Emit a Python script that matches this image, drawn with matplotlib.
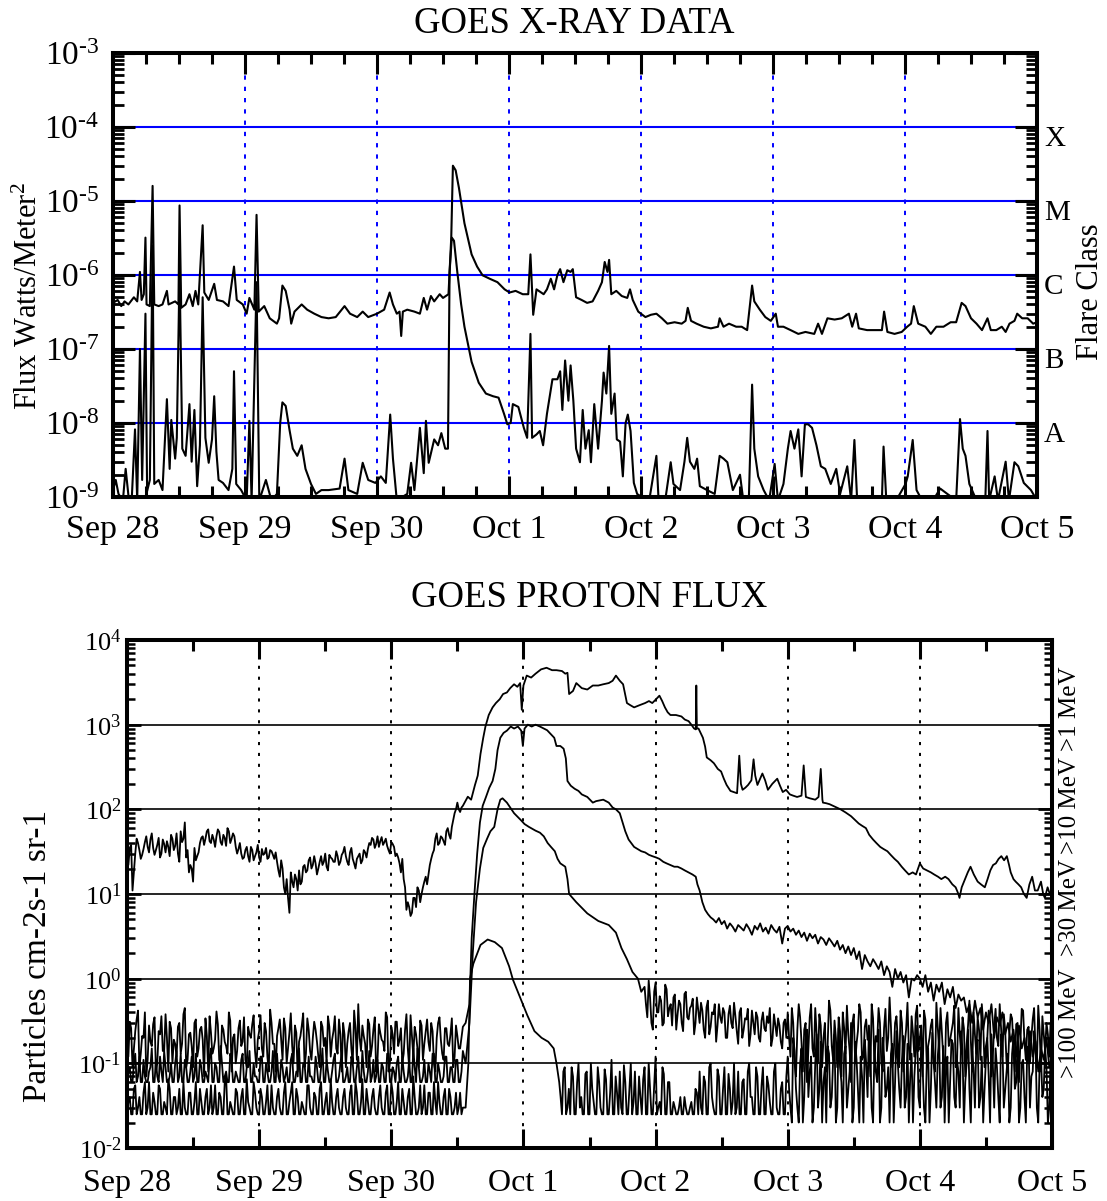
import numpy as np
import matplotlib
matplotlib.use("Agg")
import matplotlib.pyplot as plt
from matplotlib.ticker import FixedLocator, FixedFormatter, LogLocator, NullFormatter

plt.rcParams['font.family'] = ['Liberation Serif', 'DejaVu Serif']
plt.rcParams['mathtext.fontset'] = 'custom'
plt.rcParams['mathtext.rm'] = 'Liberation Serif'
plt.rcParams['mathtext.it'] = 'Liberation Serif:italic'
plt.rcParams['mathtext.bf'] = 'Liberation Serif:bold'

# ---------------- data ----------------
day_labels = ["Sep 28", "Sep 29", "Sep 30", "Oct 1", "Oct 2", "Oct 3", "Oct 4", "Oct 5"]
day_hours = [0, 24, 48, 72, 96, 120, 144, 168]
flare_classes = ["A", "B", "C", "M", "X"]
flare_levels = [1e-8, 1e-7, 1e-6, 1e-5, 1e-4]
xray_decades = [1e-9, 1e-8, 1e-7, 1e-6, 1e-5, 1e-4, 1e-3]
xray_decade_labels = [r"$10^{\text{-9}}$", r"$10^{\text{-8}}$", r"$10^{\text{-7}}$", r"$10^{\text{-6}}$",
                      r"$10^{\text{-5}}$", r"$10^{\text{-4}}$", r"$10^{\text{-3}}$"]
proton_decades = [1e-2, 1e-1, 1e0, 1e1, 1e2, 1e3, 1e4]
proton_decade_labels = [r"$10^{\text{-2}}$", r"$10^{\text{-1}}$", r"$10^{0}$", r"$10^{1}$", r"$10^{2}$",
                        r"$10^{3}$", r"$10^{4}$"]
proton_channels = [">100 MeV", ">30 MeV", ">10 MeV", ">1 MeV"]

# GOES long channel (1-8 A), (hour since Sep 28 00 UT, W/m^2)
xray_long = [
    (0.0, 4.2e-7), (0.85, 4.6e-7), (1.5, 3.8e-7), (2.1, 4.4e-7), (2.8, 4.0e-7), (3.8, 5.0e-7),
    (4.4, 4.4e-7), (4.9, 1.1e-6), (5.2, 4.6e-7), (5.6, 5.5e-7), (5.9, 3.2e-6), (6.1, 4.0e-7),
    (6.7, 3.8e-7), (7.2, 1.6e-5), (7.5, 4.0e-7), (8.3, 3.8e-7), (9.0, 4.0e-7), (9.8, 6.1e-7),
    (10.1, 4.0e-7), (11.3, 4.4e-7), (11.9, 4.0e-7), (12.1, 8.7e-6), (12.4, 3.6e-7), (13.2, 4.0e-7),
    (13.9, 5.5e-7), (14.5, 3.8e-7), (15.0, 6.1e-7), (15.5, 4.0e-7), (16.3, 4.7e-6), (16.6, 5.8e-7),
    (17.4, 4.6e-7), (18.4, 7.6e-7), (18.9, 4.6e-7), (20.0, 4.4e-7), (21.0, 3.8e-7), (22.0, 1.3e-6),
    (22.5, 4.6e-7), (23.6, 4.0e-7), (24.3, 3.0e-7), (24.8, 4.9e-7), (25.7, 3.4e-7), (26.1, 6.5e-6),
    (26.5, 3.2e-7), (27.5, 3.8e-7), (28.5, 2.6e-7), (29.8, 2.2e-7), (30.2, 2.6e-7), (30.8, 7.2e-7),
    (31.4, 6.1e-7), (32.1, 3.4e-7), (32.4, 2.2e-7), (33.0, 3.2e-7), (34.3, 4.0e-7), (35.3, 3.4e-7),
    (36.6, 3.0e-7), (37.9, 2.7e-7), (39.2, 2.6e-7), (40.5, 2.7e-7), (42.1, 3.8e-7), (43.1, 3.0e-7),
    (44.4, 2.7e-7), (45.4, 3.2e-7), (46.4, 2.7e-7), (48.0, 3.0e-7), (49.3, 3.4e-7), (50.3, 5.8e-7),
    (50.9, 4.0e-7), (51.6, 3.0e-7), (52.1, 3.2e-7), (52.4, 1.5e-7), (52.7, 3.2e-7), (53.5, 3.4e-7),
    (54.8, 3.2e-7), (55.8, 3.0e-7), (56.5, 4.9e-7), (57.1, 3.4e-7), (57.8, 5.2e-7), (58.4, 4.4e-7),
    (59.4, 5.5e-7), (60.0, 4.9e-7), (61.0, 5.5e-7), (61.5, 3.2e-6), (61.8, 3.0e-5), (62.3, 2.6e-5),
    (62.9, 1.5e-5), (63.9, 5.0e-6), (65.2, 1.9e-6), (66.2, 1.3e-6), (67.2, 9.9e-7), (68.5, 8.9e-7),
    (69.9, 8.0e-7), (71.2, 6.4e-7), (72.1, 5.8e-7), (73.2, 6.1e-7), (74.5, 5.5e-7), (75.5, 5.5e-7),
    (75.9, 1.9e-6), (76.4, 2.9e-7), (77.0, 6.4e-7), (78.3, 5.5e-7), (78.9, 6.4e-7), (79.6, 8.9e-7),
    (80.2, 6.4e-7), (80.8, 1.0e-6), (81.3, 1.2e-6), (81.9, 8.0e-7), (82.6, 1.16e-6), (83.2, 1.1e-6),
    (83.6, 1.2e-6), (84.2, 5.0e-7), (85.2, 4.6e-7), (86.2, 4.2e-7), (87.2, 4.4e-7), (88.2, 6.1e-7),
    (88.9, 8.0e-7), (89.4, 1.5e-6), (89.9, 1.1e-6), (90.2, 1.6e-6), (90.6, 5.5e-7), (91.5, 6.1e-7),
    (92.5, 5.2e-7), (93.5, 4.9e-7), (94.0, 6.4e-7), (94.5, 4.6e-7), (95.5, 3.2e-7), (96.8, 2.7e-7),
    (97.8, 2.9e-7), (98.8, 3.0e-7), (99.8, 2.6e-7), (100.8, 2.2e-7), (102.1, 2.3e-7), (103.4, 2.2e-7),
    (104.1, 2.4e-7), (104.5, 3.6e-7), (105.1, 2.4e-7), (106.1, 2.2e-7), (107.4, 2.0e-7), (108.7, 1.9e-7),
    (110.0, 2.0e-7), (110.3, 2.6e-7), (111.0, 2.0e-7), (112.0, 2.2e-7), (113.3, 2.0e-7), (114.3, 2.0e-7),
    (115.3, 1.8e-7), (116.2, 7.2e-7), (116.6, 4.4e-7), (117.6, 3.4e-7), (118.6, 2.7e-7), (119.6, 2.4e-7),
    (120.5, 3.0e-7), (120.9, 2.0e-7), (121.9, 2.0e-7), (123.2, 1.8e-7), (124.6, 1.6e-7), (125.9, 1.7e-7),
    (127.5, 1.6e-7), (128.2, 2.2e-7), (128.9, 1.6e-7), (129.9, 2.6e-7), (131.2, 2.5e-7), (132.5, 2.6e-7),
    (133.8, 3.0e-7), (134.4, 2.0e-7), (135.1, 3.0e-7), (135.6, 1.9e-7), (137.1, 1.8e-7), (138.8, 1.8e-7),
    (139.8, 1.8e-7), (140.2, 3.2e-7), (140.8, 1.7e-7), (142.1, 1.6e-7), (143.4, 1.7e-7), (144.4, 2.0e-7),
    (145.1, 2.2e-7), (145.6, 3.8e-7), (146.4, 2.2e-7), (147.7, 2.0e-7), (148.7, 1.6e-7), (149.7, 2.0e-7),
    (151.0, 2.0e-7), (152.3, 2.3e-7), (153.3, 2.3e-7), (154.3, 4.2e-7), (155.0, 3.8e-7), (156.0, 2.6e-7),
    (157.0, 2.2e-7), (158.0, 1.8e-7), (159.0, 2.6e-7), (159.6, 1.8e-7), (160.6, 1.8e-7), (161.6, 2.0e-7),
    (162.3, 1.7e-7), (163.0, 2.2e-7), (163.9, 2.4e-7), (164.4, 3.0e-7), (165.3, 2.6e-7), (166.3, 2.6e-7),
    (167.3, 2.2e-7), (168.0, 2.3e-7),
]

# GOES short channel (0.5-4 A)
xray_short = [
    (0.0, 1.24e-9), (0.5, 1.7e-9), (1.0, 1.1e-9), (1.8, 9e-10), (2.3, 2.4e-9), (2.9, 9e-10),
    (3.4, 9e-10), (4.0, 8.2e-9), (4.4, 9e-10), (4.9, 1.0e-7), (5.3, 1.7e-9), (5.9, 3e-7),
    (6.2, 1.2e-9), (6.7, 1.7e-9), (7.2, 2.5e-6), (7.5, 1.5e-9), (8.3, 1.7e-9), (9.0, 1.24e-9),
    (9.8, 2.1e-8), (10.3, 2.4e-9), (10.6, 1.1e-8), (11.3, 3.3e-9), (11.6, 6.3e-9), (12.1, 1.2e-6),
    (12.6, 4.5e-9), (13.2, 3.6e-9), (13.9, 1.8e-8), (14.3, 3.0e-9), (14.8, 1.5e-8), (15.3, 1.4e-9),
    (15.8, 5.0e-9), (16.3, 5.0e-7), (16.8, 6.3e-9), (17.4, 2.9e-9), (18.0, 6.0e-9), (18.4, 2.3e-8),
    (18.8, 4.1e-9), (19.2, 1.7e-9), (20.0, 1.55e-9), (21.0, 1.24e-9), (21.7, 2.4e-9), (22.0, 5.0e-8),
    (22.4, 1.5e-9), (23.3, 1.24e-9), (24.3, 9e-10), (24.8, 1.07e-8), (25.2, 9e-10), (26.1, 8e-7),
    (26.6, 9e-10), (27.8, 1.7e-9), (28.8, 9e-10), (29.8, 1.1e-9), (30.4, 1.0e-8), (30.8, 1.9e-8),
    (31.4, 1.7e-8), (32.1, 8e-9), (32.7, 4.5e-9), (33.5, 3.6e-9), (34.3, 5.0e-9), (35.0, 2.4e-9),
    (36.0, 1.5e-9), (36.9, 1.1e-9), (37.9, 1.24e-9), (39.2, 1.24e-9), (41.2, 1.3e-9), (42.1, 3.3e-9),
    (42.8, 1.24e-9), (44.4, 1.1e-9), (45.4, 2.9e-9), (46.4, 1.7e-9), (47.7, 1.55e-9), (48.7, 1.9e-9),
    (49.6, 1.55e-9), (50.4, 1.3e-8), (50.9, 3.3e-9), (51.6, 9e-10), (53.5, 1.1e-9), (54.2, 2.9e-9),
    (54.8, 1.24e-9), (55.8, 8.6e-9), (56.5, 2.1e-9), (56.9, 1.07e-8), (57.4, 2.9e-9), (58.4, 6.0e-9),
    (59.1, 5.0e-9), (59.7, 7.3e-9), (60.4, 4.5e-9), (60.9, 4.5e-9), (61.2, 1.1e-6), (61.6, 3.2e-6),
    (62.0, 2.9e-6), (62.6, 1.1e-6), (63.3, 4.0e-7), (63.9, 2.0e-7), (65.2, 6.7e-8), (66.5, 3.5e-8),
    (67.8, 2.5e-8), (69.1, 2.3e-8), (70.1, 2.2e-8), (71.1, 1.33e-8), (71.7, 9.6e-9), (72.3, 1.0e-8),
    (72.7, 1.8e-8), (73.7, 1.65e-8), (74.7, 8.6e-9), (75.3, 6.3e-9), (75.9, 1.6e-7), (76.2, 6.3e-9),
    (77.0, 7.0e-9), (77.6, 7.8e-9), (78.2, 5.0e-9), (78.9, 1.33e-8), (79.9, 3.9e-8), (80.8, 3.9e-8),
    (81.3, 5.0e-8), (81.7, 1.5e-8), (82.2, 7.0e-8), (82.8, 2.0e-8), (83.2, 6.0e-8), (83.7, 2.0e-8),
    (84.2, 4.5e-9), (84.9, 2.95e-9), (85.4, 1.5e-8), (85.9, 4.5e-9), (86.5, 8e-9), (86.9, 2.95e-9),
    (87.5, 1.8e-8), (88.2, 4.5e-9), (88.9, 2.0e-8), (89.2, 4.8e-8), (89.7, 2.5e-8), (90.2, 1.1e-7),
    (90.6, 1.33e-8), (91.2, 2.5e-8), (91.6, 6.0e-9), (92.2, 5.6e-9), (92.7, 1.9e-9), (93.2, 1.0e-8),
    (93.6, 1.3e-8), (94.1, 7.8e-9), (94.7, 1.55e-9), (95.3, 1.1e-9), (96.1, 1.0e-9), (97.5, 9e-10),
    (98.8, 3.6e-9), (99.2, 9e-10), (100.4, 9e-10), (101.4, 2.95e-9), (101.9, 1.5e-9), (103.1, 1.24e-9),
    (103.9, 3.0e-9), (104.4, 6.3e-9), (104.9, 3.0e-9), (105.7, 2.4e-9), (106.2, 3.3e-9), (106.7, 1.4e-9),
    (108.0, 1.24e-9), (109.4, 1.1e-9), (110.3, 3.6e-9), (111.0, 3.3e-9), (111.7, 2.95e-9), (112.7, 1.24e-9),
    (114.0, 2.0e-9), (114.6, 9e-10), (115.6, 9e-10), (116.2, 3.3e-8), (116.6, 4.5e-9), (117.3, 1.9e-9),
    (118.3, 1.24e-9), (119.3, 9e-10), (120.3, 2.8e-9), (120.9, 9e-10), (121.9, 1.5e-9), (122.7, 4.5e-9),
    (123.2, 7.8e-9), (123.9, 4.5e-9), (124.6, 8.2e-9), (125.2, 1.9e-9), (125.8, 9.6e-9), (126.4, 9.6e-9),
    (127.1, 8.6e-9), (127.9, 5.0e-9), (128.7, 2.6e-9), (129.5, 2.4e-9), (130.5, 1.5e-9), (131.5, 2.4e-9),
    (132.2, 1.1e-9), (133.5, 2.6e-9), (134.2, 9e-10), (134.8, 5.9e-9), (135.3, 9e-10), (137.1, 9e-10),
    (139.8, 9e-10), (140.1, 4.8e-9), (140.6, 9e-10), (142.4, 9e-10), (144.1, 1.5e-9), (144.5, 1.9e-9),
    (145.4, 5.9e-9), (146.1, 1.24e-9), (147.1, 9e-10), (149.1, 9e-10), (150.4, 1.3e-9), (151.7, 1.1e-9),
    (153.3, 9e-10), (154.0, 1.13e-8), (154.5, 4.5e-9), (155.0, 3.6e-9), (155.7, 1.5e-9), (157.0, 9e-10),
    (158.6, 9e-10), (159.0, 7.8e-9), (159.3, 9e-10), (160.3, 1.9e-9), (160.9, 9e-10), (162.3, 3.0e-9),
    (162.9, 9e-10), (163.9, 2.95e-9), (164.6, 2.6e-9), (165.6, 1.55e-9), (166.9, 1.24e-9), (168.0, 9e-10),
]

# ---- GOES proton integral fluxes (5-min data, shown as 15-min samples in quiet/noisy parts) ----
quiet_hours = np.arange(0.0, 61.5, 0.5)
quiet_hours_mid = np.arange(0.25, 61.0, 0.5)

p1_quiet = [28, 35, 11, 30, 40, 26, 34, 48, 31, 52, 29,
            38, 27, 44, 31, 36, 50, 33, 52, 24, 41, 70,
            33, 22, 14, 25, 31, 46, 38, 55, 42, 50, 36,
            58, 41, 50, 37, 55, 45, 48, 30, 40, 26, 33,
            28, 36, 25, 31, 27, 34, 30, 26, 33, 29, 31,
            19, 25, 12, 15, 6, 14, 17, 11, 13, 21, 18,
            25, 20, 28, 17, 24, 22, 30, 19, 27, 24, 32,
            22, 29, 36, 24, 31, 26, 20, 28, 23, 33, 27,
            40, 46, 35, 48, 42, 38, 45, 33, 41, 36, 30,
            23, 26, 12, 8, 5.5, 9, 7, 11, 10, 14, 13,
            22, 30, 45, 38, 48, 42, 55, 50, 62, 90, 120,
            93, 110]
p1_quiet_mid = [22, 38, 18, 45, 33, 29, 41, 36, 44, 35,
                33, 46, 30, 39, 42, 28, 45, 37, 30, 55, 45,
                27, 18, 20, 35, 28, 40, 48, 45, 58, 40, 44,
                48, 54, 38, 46, 60, 40, 52, 36, 34, 30, 27,
                36, 24, 33, 28, 38, 24, 29, 35, 27, 32, 26,
                24, 16, 20, 10, 9, 18, 12, 15, 19, 14, 22,
                19, 27, 22, 23, 20, 28, 24, 21, 29, 26, 24,
                28, 24, 31, 28, 22, 35, 23, 26, 30, 25, 31,
                34, 38, 44, 39, 36, 47, 41, 37, 30, 39, 28,
                27, 18, 15, 6.5, 7, 6, 9, 12, 8, 12, 16,
                17, 26, 33, 52, 40, 46, 38, 60, 45, 75, 100,
                100, 105]

p10_quiet = [0.18, 0.31, 0.09, 0.24, 0.42, 0.13, 0.2, 0.07, 0.28, 0.16,
             0.35, 0.1, 0.22, 0.14, 0.38, 0.08, 0.26, 0.19, 0.12, 0.3,
             0.17, 0.45, 0.11, 0.23, 0.09, 0.33, 0.15, 0.27, 0.07, 0.21,
             0.36, 0.13, 0.19, 0.29, 0.1, 0.25, 0.16, 0.4, 0.08, 0.22,
             0.14, 0.32, 0.18, 0.11, 0.27, 0.2, 0.37, 0.09, 0.24, 0.15,
             0.3, 0.12, 0.43, 0.17, 0.08, 0.26, 0.19, 0.34, 0.1, 0.23,
             0.16, 0.28, 0.07, 0.21, 0.39, 0.13, 0.25, 0.11, 0.31, 0.18,
             0.09, 0.27, 0.2, 0.36, 0.12, 0.24, 0.15, 0.33, 0.08, 0.22,
             0.17, 0.3, 0.1, 0.26, 0.5, 0.14, 0.21, 0.09, 0.29, 0.16,
             0.35, 0.11, 0.23, 0.18, 0.4, 0.08, 0.27, 0.13, 0.31, 0.19,
             0.1, 0.25, 0.15, 0.37, 0.12, 0.22, 0.09, 0.28, 0.17, 0.33,
             0.14, 0.24, 0.08, 0.3, 0.19, 0.11, 0.26, 0.16, 0.34, 0.12,
             0.21, 0.15, 0.27]
p10_quiet_mid = [0.12, 0.26, 0.15, 0.33, 0.09, 0.21, 0.4, 0.11, 0.18, 0.29,
                 0.08, 0.24, 0.36, 0.14, 0.2, 0.31, 0.1, 0.17, 0.27, 0.13,
                 0.38, 0.09, 0.22, 0.16, 0.3, 0.12, 0.25, 0.19, 0.34, 0.08,
                 0.23, 0.15, 0.41, 0.11, 0.28, 0.18, 0.13, 0.32, 0.2, 0.1,
                 0.26, 0.16, 0.35, 0.09, 0.22, 0.29, 0.14, 0.19, 0.37, 0.12,
                 0.24, 0.08, 0.3, 0.17, 0.21, 0.33, 0.11, 0.26, 0.15, 0.39,
                 0.1, 0.23, 0.18, 0.28, 0.09, 0.34, 0.14, 0.2, 0.25, 0.12,
                 0.31, 0.16, 0.1, 0.27, 0.19, 0.36, 0.13, 0.22, 0.3, 0.09,
                 0.24, 0.15, 0.42, 0.11, 0.2, 0.28, 0.17, 0.33, 0.12, 0.25,
                 0.08, 0.29, 0.19, 0.14, 0.35, 0.1, 0.22, 0.31, 0.16, 0.26,
                 0.13, 0.38, 0.09, 0.21, 0.27, 0.15, 0.32, 0.11, 0.24, 0.18,
                 0.3, 0.1, 0.2, 0.35, 0.13, 0.26, 0.17, 0.22, 0.09, 0.28,
                 0.15, 0.2]

p30_quiet = [0.06, 0.09, 0.06, 0.13, 0.07, 0.06, 0.11, 0.06, 0.08, 0.15,
             0.06, 0.07, 0.12, 0.06, 0.09, 0.06, 0.1, 0.06, 0.14, 0.07,
             0.06, 0.11, 0.06, 0.08, 0.06, 0.13, 0.06, 0.09, 0.06, 0.07,
             0.12, 0.06, 0.1, 0.06, 0.16, 0.06, 0.08, 0.06, 0.11, 0.06,
             0.07, 0.06, 0.13, 0.06, 0.09, 0.06, 0.1, 0.07, 0.06, 0.12,
             0.06, 0.08, 0.06, 0.14, 0.06, 0.07, 0.11, 0.06, 0.09, 0.06,
             0.13, 0.06, 0.08, 0.06, 0.1, 0.06, 0.12, 0.07, 0.06, 0.09,
             0.06, 0.15, 0.06, 0.08, 0.06, 0.11, 0.06, 0.07, 0.13, 0.06,
             0.09, 0.06, 0.1, 0.06, 0.12, 0.06, 0.08, 0.06, 0.14, 0.07,
             0.06, 0.11, 0.06, 0.09, 0.06, 0.13, 0.06, 0.08, 0.1, 0.06,
             0.12, 0.06, 0.07, 0.06, 0.15, 0.06, 0.09, 0.06, 0.11, 0.06,
             0.08, 0.13, 0.06, 0.1, 0.06, 0.07, 0.12, 0.06, 0.09, 0.06,
             0.11, 0.06, 0.14]
p30_quiet_mid = [0.08, 0.06, 0.1, 0.06, 0.12, 0.06, 0.07, 0.06, 0.09, 0.06,
                 0.11, 0.06, 0.08, 0.14, 0.06, 0.07, 0.06, 0.1, 0.06, 0.13,
                 0.06, 0.09, 0.06, 0.12, 0.07, 0.06, 0.11, 0.06, 0.08, 0.06,
                 0.15, 0.06, 0.09, 0.06, 0.1, 0.07, 0.06, 0.13, 0.06, 0.08,
                 0.06, 0.11, 0.06, 0.09, 0.14, 0.06, 0.07, 0.06, 0.12, 0.06,
                 0.1, 0.06, 0.08, 0.06, 0.13, 0.06, 0.09, 0.07, 0.06, 0.11,
                 0.06, 0.08, 0.15, 0.06, 0.1, 0.06, 0.07, 0.06, 0.12, 0.06,
                 0.09, 0.06, 0.11, 0.06, 0.08, 0.13, 0.06, 0.1, 0.06, 0.07,
                 0.06, 0.12, 0.06, 0.09, 0.06, 0.14, 0.06, 0.08, 0.06, 0.11,
                 0.07, 0.06, 0.1, 0.06, 0.13, 0.06, 0.09, 0.06, 0.12, 0.06,
                 0.08, 0.06, 0.11, 0.06, 0.09, 0.15, 0.06, 0.07, 0.06, 0.1,
                 0.06, 0.13, 0.06, 0.08, 0.06, 0.12, 0.06, 0.09, 0.06, 0.11,
                 0.06, 0.08]

p100_quiet = [0.025, 0.04, 0.025, 0.055, 0.03, 0.025, 0.045, 0.025, 0.06, 0.025,
              0.035, 0.025, 0.05, 0.025, 0.03, 0.065, 0.025, 0.04, 0.025, 0.05,
              0.025, 0.03, 0.025, 0.045, 0.025, 0.06, 0.025, 0.035, 0.025, 0.05,
              0.03, 0.025, 0.055, 0.025, 0.04, 0.025, 0.07, 0.025, 0.03, 0.025,
              0.045, 0.025, 0.05, 0.025, 0.035, 0.025, 0.06, 0.03, 0.025, 0.04,
              0.025, 0.055, 0.025, 0.03, 0.025, 0.05, 0.025, 0.045, 0.025, 0.035,
              0.06, 0.025, 0.04, 0.025, 0.03, 0.025, 0.055, 0.025, 0.045, 0.025,
              0.05, 0.025, 0.035, 0.025, 0.065, 0.025, 0.04, 0.03, 0.025, 0.05,
              0.025, 0.045, 0.025, 0.06, 0.025, 0.035, 0.025, 0.05, 0.025, 0.04,
              0.03, 0.025, 0.055, 0.025, 0.045, 0.025, 0.06, 0.025, 0.035, 0.025,
              0.05, 0.025, 0.04, 0.025, 0.07, 0.025, 0.03, 0.025, 0.055, 0.025,
              0.045, 0.025, 0.035, 0.06, 0.025, 0.04, 0.025, 0.05, 0.025, 0.03,
              0.025, 0.045, 0.03]
p100_quiet_mid = [0.035, 0.025, 0.05, 0.025, 0.04, 0.025, 0.06, 0.03, 0.025, 0.045,
                  0.025, 0.055, 0.025, 0.035, 0.025, 0.05, 0.025, 0.04, 0.03, 0.025,
                  0.06, 0.025, 0.045, 0.025, 0.035, 0.025, 0.05, 0.025, 0.04, 0.025,
                  0.055, 0.03, 0.025, 0.045, 0.025, 0.06, 0.025, 0.035, 0.025, 0.05,
                  0.025, 0.04, 0.025, 0.065, 0.03, 0.025, 0.045, 0.025, 0.05, 0.025,
                  0.035, 0.025, 0.055, 0.025, 0.04, 0.03, 0.025, 0.06, 0.025, 0.045,
                  0.025, 0.05, 0.025, 0.035, 0.025, 0.055, 0.03, 0.025, 0.04, 0.025,
                  0.06, 0.025, 0.045, 0.025, 0.035, 0.025, 0.05, 0.025, 0.04, 0.03,
                  0.025, 0.055, 0.025, 0.045, 0.025, 0.065, 0.025, 0.035, 0.025, 0.05,
                  0.025, 0.04, 0.03, 0.025, 0.055, 0.025, 0.045, 0.025, 0.06, 0.025,
                  0.035, 0.025, 0.05, 0.025, 0.04, 0.025, 0.055, 0.03, 0.025, 0.045,
                  0.025, 0.06, 0.025, 0.035, 0.025, 0.05, 0.025, 0.04, 0.025, 0.045,
                  0.03, 0.025]

p1_event = [
    (61.9, 141), (62.5, 130), (63.2, 194), (63.7, 250), (64.2, 450), (64.7, 700), (65.1, 950),
    (65.7, 1300), (66.4, 1600), (67.0, 1800), (67.7, 2000), (68.3, 2300), (69.0, 2400), (69.6, 2700),
    (70.3, 3000), (70.9, 2800), (71.4, 3100), (71.7, 1500), (72.0, 2900), (72.6, 3800), (73.4, 3600),
    (74.2, 4000), (75.2, 4500), (76.2, 4700), (77.2, 4400), (78.0, 4400), (79.0, 4300), (79.6, 4000),
    (80.0, 4100), (80.3, 2300), (81.0, 2500), (81.6, 3100), (82.6, 2700), (83.6, 2600), (84.6, 2900),
    (85.6, 2900), (86.5, 3000), (87.5, 3100), (88.2, 3300), (88.8, 3800), (89.5, 3300), (90.1, 3000),
    (90.8, 1800), (91.4, 1700), (92.1, 1600), (93.1, 1700), (94.1, 1800), (94.8, 1900), (95.4, 1800),
    (96.1, 2000), (96.7, 2200), (97.2, 1900), (97.7, 1600), (98.2, 1400), (98.7, 1300), (99.7, 1300),
    (100.7, 1250), (101.3, 1150), (102.0, 1100), (102.5, 1000), (103.0, 900), (103.3, 880), (103.4, 2900),
    (103.5, 900), (103.8, 900), (104.6, 700), (105.0, 550), (105.3, 410), (106.0, 380), (106.6, 350),
    (107.3, 300), (107.9, 280), (108.4, 230), (108.9, 194), (109.6, 165), (110.2, 160), (110.8, 155),
    (111.2, 430), (111.5, 200), (111.8, 170), (112.3, 180), (112.8, 194), (113.4, 220), (113.8, 390),
    (114.1, 250), (114.5, 194), (115.0, 230), (115.4, 265), (115.9, 220), (116.4, 170), (117.2, 200),
    (118.1, 230), (118.6, 190), (119.1, 160), (119.7, 170), (120.4, 150), (121.0, 145), (121.7, 140),
    (122.5, 145), (122.9, 330), (123.3, 140), (124.0, 135), (125.0, 130), (125.6, 140), (126.0, 300),
    (126.3, 130), (126.4, 120), (127.0, 118), (127.6, 115), (128.5, 108), (129.6, 100), (130.5, 92),
    (131.5, 83), (132.2, 75), (132.9, 68), (133.5, 64), (134.2, 60), (134.8, 50), (135.5, 44),
    (136.1, 40), (136.8, 36), (137.4, 34), (138.1, 32), (138.7, 29), (139.4, 26), (140.0, 24),
    (140.7, 21), (141.3, 19), (142.0, 17), (142.7, 18), (143.3, 17), (144.0, 23), (144.6, 20),
    (145.3, 19), (146.0, 18), (146.6, 17), (147.3, 16), (147.9, 15), (148.6, 16), (149.2, 15),
    (149.9, 13), (150.5, 12), (151.0, 10), (151.2, 9), (151.6, 12), (152.2, 15), (152.7, 18),
    (153.2, 21), (153.8, 17), (154.5, 14), (155.1, 13), (155.8, 12), (156.3, 15), (156.8, 19),
    (157.3, 22), (157.8, 23), (158.3, 26), (158.8, 28), (159.3, 25), (159.8, 28), (160.2, 22),
    (160.5, 18), (161.0, 15), (161.4, 14), (161.9, 13), (162.4, 12), (162.9, 10), (163.4, 9),
    (163.9, 13), (164.4, 16), (164.9, 11), (165.4, 11), (166.0, 14), (166.4, 10), (166.7, 9),
    (167.2, 12), (167.6, 10), (168.0, 11),
]

p10_event = [
    (61.5, 0.3), (62.2, 0.5), (62.6, 3), (63.1, 10), (63.6, 30), (64.1, 70), (64.6, 110), (65.2, 140),
    (65.8, 180), (66.4, 216), (66.9, 300), (67.3, 500), (67.8, 700), (68.4, 800), (69.0, 850),
    (69.7, 950), (70.3, 900), (71.0, 950), (71.6, 850), (71.9, 560), (72.2, 900), (72.8, 1000),
    (73.5, 950), (74.2, 1000), (75.0, 950), (75.7, 900), (76.3, 860), (77.0, 770), (77.6, 700),
    (78.0, 560), (78.7, 560), (79.3, 520), (79.7, 400), (80.0, 216), (80.6, 190), (81.3, 175),
    (82.0, 165), (82.6, 150), (83.6, 140), (84.6, 120), (85.2, 125), (86.5, 130), (87.5, 120),
    (88.2, 105), (88.8, 100), (89.5, 90), (90.1, 67), (90.5, 55), (91.1, 44), (92.1, 36), (93.4, 32),
    (94.1, 31), (94.8, 29), (95.4, 28), (96.1, 27), (96.7, 26), (97.4, 24), (98.0, 23), (98.7, 22),
    (99.4, 21), (100.0, 21), (100.7, 20), (101.3, 19), (102.0, 18), (102.7, 17), (103.3, 16),
    (103.6, 13),
]
late_hours_p10 = np.arange(104.0, 168.5, 0.5)
p10_late = [11, 8, 6.5, 5.8, 5.3, 5.0, 4.6, 5.2, 4.4, 4.8, 3.9, 4.5, 4.1, 3.6, 4.3, 4.0,
            3.7, 4.4, 3.9, 3.3, 4.2, 3.8, 4.5, 3.6, 4.0, 3.4, 4.3, 3.8, 3.5, 4.1, 2.6, 3.9,
            4.2, 3.6, 3.9, 3.3, 3.7, 3.1, 3.5, 2.8, 3.4, 3.0, 3.3, 2.6, 3.1, 2.9, 2.5, 3.0,
            2.7, 2.4, 2.8, 2.2, 2.5, 2.0, 2.4, 1.9, 2.3, 1.7, 2.1, 1.3, 1.9, 1.6, 1.4, 1.7,
            1.5, 1.3, 1.6, 1.1, 1.4, 1.2, 0.8, 1.3, 1.0, 1.2, 0.9, 1.1, 0.6, 1.0, 0.95, 1.1,
            1.0, 0.8, 1.1, 0.7, 0.9, 0.55, 0.85, 0.7, 0.9, 0.5, 0.75, 0.6, 0.8, 0.45, 0.65, 0.55,
            0.6, 0.4, 0.5, 0.3, 0.55, 0.35, 0.45, 0.25, 0.4, 0.3, 0.5, 0.2, 0.35, 0.28, 0.4, 0.22,
            0.3, 0.18, 0.25, 0.12, 0.28, 0.15, 0.2, 0.1, 0.24, 0.12, 0.18, 0.08, 0.15, 0.11, 0.2, 0.09,
            0.12]

p30_event = [
    (61.5, 0.1), (62.2, 0.3), (62.8, 2), (63.4, 8), (64.1, 20), (64.7, 35), (65.4, 45), (66.0, 55),
    (66.7, 62), (67.3, 100), (67.8, 130), (68.2, 135), (69.0, 120), (70.3, 90), (71.5, 75), (72.2, 67),
    (73.0, 62), (74.2, 56), (75.0, 53), (75.7, 48), (76.4, 40), (77.0, 36), (77.7, 32), (78.2, 26),
    (78.7, 23), (79.6, 21), (80.0, 15), (80.3, 10), (81.6, 8), (83.6, 5.9), (85.6, 4.8), (87.5, 4.3),
    (88.8, 3.5), (89.8, 2.3), (90.8, 1.7), (91.8, 1.2), (92.8, 1.0), (93.4, 0.7),
]
tail_hours_p30_a = np.arange(94.0, 120.0, 0.5)
tail_hours_p30_a_mid = np.arange(94.25, 120.0, 0.5)
p30_tail_a = [0.8, 0.35, 0.6, 0.25, 0.9, 0.4, 0.55, 0.3, 0.75, 0.45,
              0.28, 0.65, 0.38, 0.5, 0.24, 0.7, 0.33, 0.48, 0.22, 0.6,
              0.3, 0.42, 0.2, 0.55, 0.27, 0.38, 0.18, 0.5, 0.3, 0.4,
              0.2, 0.48, 0.26, 0.36, 0.17, 0.45, 0.25, 0.33, 0.16, 0.42,
              0.22, 0.35, 0.18, 0.4, 0.24, 0.3, 0.16, 0.38, 0.21, 0.28,
              0.15, 0.33]
p30_tail_a_mid = [0.5, 0.95, 0.3, 0.7, 0.4, 0.62, 0.28, 0.85, 0.36, 0.5,
                  0.6, 0.25, 0.55, 0.3, 0.66, 0.35, 0.45, 0.58, 0.3, 0.42,
                  0.52, 0.25, 0.46, 0.22, 0.4, 0.5, 0.28, 0.35, 0.45, 0.2,
                  0.38, 0.3, 0.52, 0.24, 0.4, 0.2, 0.34, 0.44, 0.22, 0.3,
                  0.4, 0.2, 0.32, 0.26, 0.36, 0.45, 0.2, 0.28, 0.34, 0.18,
                  0.3, 0.2]
tail_hours_b = np.arange(120.0, 168.5, 0.5)
tail_hours_b_mid = np.arange(120.25, 168.0, 0.5)
p30_tail_b = [0.4, 0.12, 0.3, 0.07, 0.5, 0.18, 0.25, 0.06, 0.35, 0.15,
              0.45, 0.1, 0.28, 0.2, 0.08, 0.55, 0.16, 0.32, 0.09, 0.24,
              0.4, 0.13, 0.22, 0.06, 0.38, 0.17, 0.5, 0.11, 0.27, 0.19,
              0.07, 0.34, 0.21, 0.45, 0.1, 0.26, 0.14, 0.6, 0.09, 0.3,
              0.18, 0.42, 0.08, 0.25, 0.15, 0.36, 0.12, 0.48, 0.2, 0.07,
              0.33, 0.16, 0.28, 0.1, 0.52, 0.14, 0.23, 0.06, 0.4, 0.19,
              0.3, 0.09, 0.45, 0.13, 0.26, 0.17, 0.55, 0.08, 0.22, 0.35,
              0.11, 0.3, 0.16, 0.42, 0.07, 0.27, 0.2, 0.5, 0.12, 0.24,
              0.09, 0.38, 0.15, 0.29, 0.06, 0.44, 0.18, 0.25, 0.1, 0.33,
              0.14, 0.48, 0.08, 0.22, 0.3, 0.12, 0.2]
p30_tail_b_mid = [0.2, 0.45, 0.1, 0.25, 0.35, 0.08, 0.3, 0.15, 0.5, 0.12,
                  0.22, 0.38, 0.09, 0.3, 0.16, 0.42, 0.11, 0.2, 0.35, 0.07,
                  0.26, 0.48, 0.14, 0.3, 0.1, 0.24, 0.4, 0.12, 0.33, 0.2,
                  0.5, 0.1, 0.18, 0.3, 0.08, 0.44, 0.2, 0.27, 0.13, 0.36,
                  0.09, 0.3, 0.17, 0.52, 0.11, 0.23, 0.38, 0.14, 0.28, 0.42,
                  0.1, 0.2, 0.33, 0.08, 0.27, 0.45, 0.12, 0.3, 0.16, 0.24,
                  0.48, 0.1, 0.22, 0.35, 0.07, 0.28, 0.19, 0.4, 0.13, 0.25,
                  0.5, 0.09, 0.2, 0.31, 0.12, 0.44, 0.16, 0.26, 0.38, 0.1,
                  0.23, 0.34, 0.08, 0.3, 0.17, 0.42, 0.11, 0.27, 0.2, 0.45,
                  0.09, 0.25, 0.36, 0.14, 0.22, 0.3]

p100_event = [
    (61.5, 0.03), (62.0, 0.1), (62.3, 1.0), (62.9, 1.5), (64.2, 2.5), (65.5, 2.9), (66.8, 2.7),
    (68.1, 2.3), (69.4, 1.4), (70.1, 0.97), (71.4, 0.6), (72.7, 0.37), (74.0, 0.24), (75.3, 0.2),
    (76.5, 0.18), (77.5, 0.15), (78.0, 0.1),
]
tail_hours_p100_a = np.arange(78.5, 120.0, 0.5)
tail_hours_p100_a_mid = np.arange(78.75, 120.0, 0.5)
p100_tail_a = [0.06, 0.025, 0.09, 0.03, 0.025, 0.07, 0.025, 0.1, 0.04, 0.025,
               0.08, 0.025, 0.05, 0.025, 0.09, 0.03, 0.025, 0.065, 0.025, 0.11,
               0.025, 0.045, 0.08, 0.025, 0.06, 0.025, 0.1, 0.035, 0.025, 0.07,
               0.025, 0.09, 0.025, 0.05, 0.025, 0.12, 0.03, 0.025, 0.075, 0.025,
               0.06, 0.025, 0.03, 0.025, 0.04, 0.025, 0.03, 0.025, 0.035, 0.025,
               0.045, 0.08, 0.025, 0.06, 0.025, 0.1, 0.03, 0.025, 0.07, 0.025,
               0.09, 0.025, 0.05, 0.035, 0.025, 0.08, 0.025, 0.065, 0.025, 0.1,
               0.04, 0.025, 0.07, 0.025, 0.09, 0.025, 0.055, 0.025, 0.08, 0.03,
               0.025, 0.06, 0.025]
p100_tail_a_mid = [0.04, 0.08, 0.025, 0.05, 0.09, 0.025, 0.06, 0.03, 0.025, 0.075,
                   0.025, 0.1, 0.035, 0.025, 0.06, 0.025, 0.085, 0.025, 0.045, 0.025,
                   0.07, 0.025, 0.03, 0.095, 0.025, 0.05, 0.025, 0.08, 0.025, 0.04,
                   0.065, 0.025, 0.1, 0.025, 0.055, 0.025, 0.035, 0.09, 0.025, 0.06,
                   0.025, 0.035, 0.025, 0.03, 0.025, 0.04, 0.025, 0.03, 0.025, 0.05,
                   0.025, 0.03, 0.07, 0.025, 0.09, 0.04, 0.025, 0.085, 0.025, 0.05,
                   0.025, 0.075, 0.025, 0.1, 0.03, 0.025, 0.06, 0.025, 0.08, 0.04,
                   0.025, 0.09, 0.025, 0.055, 0.025, 0.07, 0.035, 0.025, 0.1, 0.025,
                   0.05, 0.025, 0.07]
p100_tail_b = [0.12, 0.03, 0.2, 0.05, 0.02, 0.15, 0.04, 0.25, 0.08, 0.02,
               0.1, 0.03, 0.18, 0.06, 0.02, 0.13, 0.04, 0.22, 0.03, 0.09,
               0.02, 0.16, 0.05, 0.3, 0.03, 0.11, 0.02, 0.07, 0.19, 0.04,
               0.14, 0.02, 0.08, 0.25, 0.03, 0.12, 0.05, 0.02, 0.17, 0.06,
               0.1, 0.03, 0.21, 0.04, 0.02, 0.13, 0.07, 0.28, 0.03, 0.09,
               0.02, 0.15, 0.05, 0.11, 0.03, 0.2, 0.04, 0.02, 0.12, 0.06,
               0.17, 0.03, 0.08, 0.24, 0.02, 0.1, 0.05, 0.14, 0.03, 0.19,
               0.04, 0.02, 0.11, 0.07, 0.22, 0.03, 0.09, 0.02, 0.16, 0.05,
               0.13, 0.03, 0.2, 0.06, 0.02, 0.1, 0.04, 0.15, 0.03, 0.08,
               0.18, 0.02, 0.12, 0.05, 0.09, 0.03, 0.14]
p100_tail_b_mid = [0.05, 0.02, 0.14, 0.03, 0.1, 0.02, 0.19, 0.04, 0.12, 0.03,
                   0.22, 0.05, 0.02, 0.09, 0.16, 0.03, 0.11, 0.02, 0.26, 0.06,
                   0.13, 0.03, 0.08, 0.02, 0.18, 0.05, 0.12, 0.02, 0.1, 0.28,
                   0.03, 0.15, 0.06, 0.02, 0.2, 0.04, 0.09, 0.13, 0.02, 0.24,
                   0.05, 0.11, 0.03, 0.17, 0.07, 0.02, 0.14, 0.04, 0.2, 0.03,
                   0.1, 0.02, 0.23, 0.06, 0.12, 0.03, 0.16, 0.08, 0.02, 0.19,
                   0.04, 0.11, 0.03, 0.14, 0.06, 0.25, 0.02, 0.09, 0.17, 0.03,
                   0.12, 0.05, 0.2, 0.02, 0.1, 0.15, 0.04, 0.22, 0.03, 0.08,
                   0.02, 0.13, 0.05, 0.18, 0.03, 0.11, 0.02, 0.16, 0.07, 0.24,
                   0.03, 0.1, 0.04, 0.15, 0.02, 0.12]


def pairs(p):
    a = np.array(p, dtype=float)
    return a[:, 0], a[:, 1]


def merge(*segs):
    hs = np.concatenate([np.asarray(s[0], float) for s in segs])
    vs = np.concatenate([np.asarray(s[1], float) for s in segs])
    order = np.argsort(hs, kind='stable')
    return hs[order], vs[order]


# ---------------- figure ----------------
W, H = 1107, 1201
fig = plt.figure(figsize=(W / 100, H / 100), dpi=100)
ax1 = fig.add_axes([113 / W, 1 - 497 / H, 924 / W, 444 / H])
ax2 = fig.add_axes([127 / W, 1 - 1148 / H, 925 / W, 508 / H])

spine_lw = 2.9

# ---- X-ray panel ----
for lv in flare_levels:
    ax1.axhline(lv, color='#0000ff', lw=1.5, zorder=1)
for h in day_hours[1:-1]:
    ax1.axvline(h, color='#0000ff', lw=1.4, ls=(0, (2.2, 3.6)), zorder=1)

hx, vx = pairs(xray_long)
ax1.plot(hx, vx, color='black', lw=1.5, zorder=3)
hs, vs = pairs(xray_short)
ax1.plot(hs, vs, color='black', lw=1.5, zorder=3)

ax1.set_yscale('log')
ax1.set_xlim(0, 168)
ax1.set_ylim(1e-9, 1e-3)
ax1.xaxis.set_major_locator(FixedLocator(day_hours))
ax1.xaxis.set_major_formatter(FixedFormatter(day_labels))
ax1.xaxis.set_minor_locator(FixedLocator(np.arange(0, 169, 6)))
ax1.xaxis.set_minor_formatter(NullFormatter())
ax1.yaxis.set_major_locator(FixedLocator(xray_decades))
ax1.yaxis.set_major_formatter(FixedFormatter(xray_decade_labels))
ax1.yaxis.set_minor_locator(LogLocator(base=10, subs=np.arange(2, 10), numticks=20))
ax1.yaxis.set_minor_formatter(NullFormatter())
ax1.tick_params(which='both', direction='in', top=True, right=True)
ax1.tick_params(axis='x', which='major', length=15, width=2.2, pad=12.5, labelsize=24.5)
ax1.tick_params(axis='x', which='minor', length=8, width=2.2)
ax1.tick_params(axis='y', which='major', length=16, width=2.2, pad=10, labelsize=24)
ax1.tick_params(axis='y', which='minor', length=8, width=2.0)
for s in ax1.spines.values():
    s.set_linewidth(spine_lw)
    s.set_zorder(5)

ytr = ax1.get_yaxis_transform()
for lab, lv in zip(flare_classes, flare_levels):
    ax1.text(1.0076, lv * 0.68, lab, transform=ytr, ha='left', va='center', size=21)
fig.text(574 / W, 1 - 24 / H, "GOES X-RAY DATA", ha='center', va='center', size=26.5)
fig.text(29 / W, 1 - 296 / H, r"Flux Watts/Meter$^2$", rotation=90, ha='center', va='center', size=22)
fig.text(1090 / W, 1 - 292 / H, "Flare Class", rotation=90, ha='center', va='center', size=22)

# ---- Proton panel ----
for lv in [1e-1, 1e0, 1e1, 1e2, 1e3]:
    ax2.axhline(lv, color='black', lw=1.2, zorder=1)
for h in day_hours[1:-1]:
    ax2.axvline(h, color='black', lw=1.4, ls=(0, (1.6, 4.0)), zorder=1)

p1_h, p1_v = merge((quiet_hours, p1_quiet), (quiet_hours_mid, p1_quiet_mid), pairs(p1_event))
p10_h, p10_v = merge((quiet_hours, p10_quiet), (quiet_hours_mid, p10_quiet_mid), pairs(p10_event),
                     (late_hours_p10, p10_late))
p30_h, p30_v = merge((quiet_hours, p30_quiet), (quiet_hours_mid, p30_quiet_mid), pairs(p30_event),
                     (tail_hours_p30_a, p30_tail_a), (tail_hours_p30_a_mid, p30_tail_a_mid),
                     (tail_hours_b, p30_tail_b), (tail_hours_b_mid, p30_tail_b_mid))
p100_h, p100_v = merge((quiet_hours, p100_quiet), (quiet_hours_mid, p100_quiet_mid), pairs(p100_event),
                       (tail_hours_p100_a, p100_tail_a), (tail_hours_p100_a_mid, p100_tail_a_mid),
                       (tail_hours_b, p100_tail_b), (tail_hours_b_mid, p100_tail_b_mid))
for hh, vv in [(p100_h, p100_v), (p30_h, p30_v), (p10_h, p10_v), (p1_h, p1_v)]:
    ax2.plot(hh, vv, color='black', lw=1.3, zorder=3)

ax2.set_yscale('log')
ax2.set_xlim(0, 168)
ax2.set_ylim(1e-2, 1e4)
ax2.xaxis.set_major_locator(FixedLocator(day_hours))
ax2.xaxis.set_major_formatter(FixedFormatter(day_labels))
ax2.xaxis.set_minor_locator(FixedLocator(np.arange(0, 169, 12)))
ax2.xaxis.set_minor_formatter(NullFormatter())
ax2.yaxis.set_major_locator(FixedLocator(proton_decades))
ax2.yaxis.set_major_formatter(FixedFormatter(proton_decade_labels))
ax2.yaxis.set_minor_locator(LogLocator(base=10, subs=np.arange(2, 10), numticks=20))
ax2.yaxis.set_minor_formatter(NullFormatter())
ax2.tick_params(which='both', direction='in', top=True, right=True)
ax2.tick_params(axis='x', which='major', length=14, width=2.2, pad=15, labelsize=23)
ax2.tick_params(axis='x', which='minor', length=8, width=2.2)
ax2.tick_params(axis='y', which='major', length=10, width=2.0, pad=4, labelsize=19)
ax2.tick_params(axis='y', which='minor', length=6, width=1.8)
for s in ax2.spines.values():
    s.set_linewidth(spine_lw)
    s.set_zorder(5)

fig.text(589 / W, 1 - 598 / H, "GOES PROTON FLUX", ha='center', va='center', size=26.5)
fig.text(38 / W, 1 - 956 / H, "Particles cm-2s-1 sr-1", rotation=90, ha='center', va='center', size=24)
for lab, yc in zip(proton_channels, [1023, 907, 806, 709]):
    fig.text(1070 / W, 1 - yc / H, lab, rotation=90, ha='center', va='center', size=18)

fig.savefig("out.png", dpi=100)
